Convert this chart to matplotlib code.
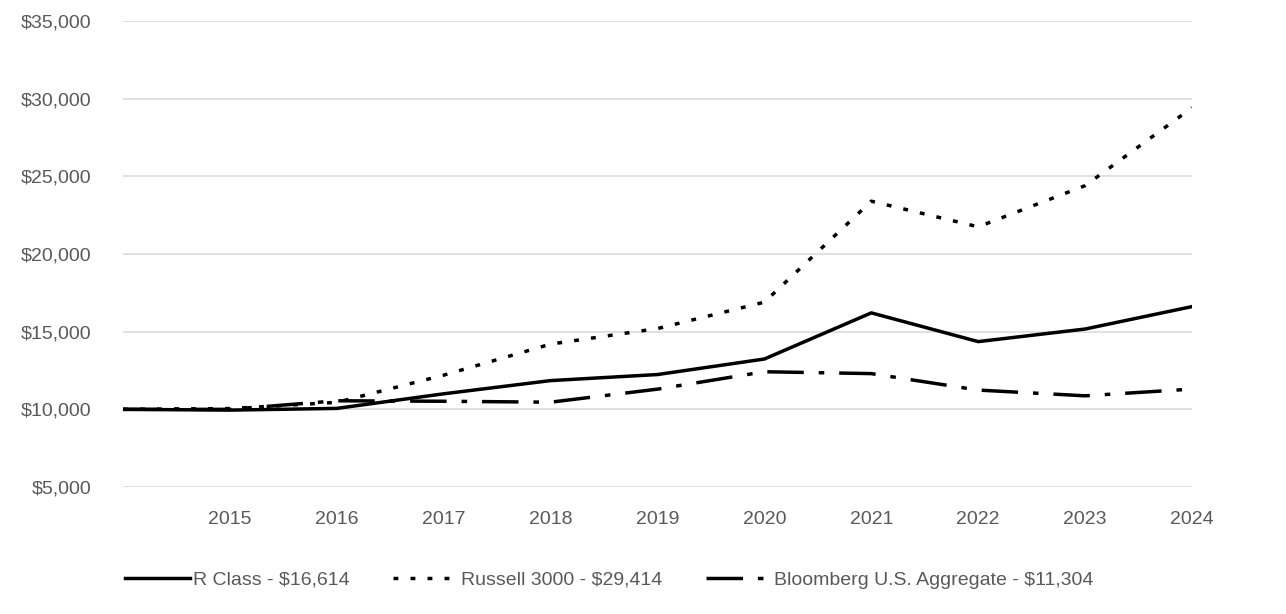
import matplotlib
matplotlib.use("Agg")
import matplotlib.pyplot as plt
from matplotlib.ticker import FuncFormatter

plt.rcParams['font.family'] = ['Liberation Sans', 'DejaVu Sans']

years = [2014, 2015, 2016, 2017, 2018, 2019, 2020, 2021, 2022, 2023, 2024]
r_class = [10000, 9950, 10060, 11000, 11850, 12240, 13240, 16210, 14360, 15170, 16614]
russell = [10000, 10050, 10450, 12200, 14200, 15200, 16900, 23400, 21750, 24400, 29414]
bloomberg = [10000, 10000, 10550, 10520, 10460, 11300, 12420, 12300, 11240, 10870, 11304]
labels = ['R Class - $16,614', 'Russell 3000 - $29,414', 'Bloomberg U.S. Aggregate - $11,304']

text_col = '#595959'
lw = 2.5
fs = 14

fig = plt.figure(figsize=(12.86, 6.14), dpi=100)
ax = fig.add_axes([123 / 1286, 1 - 487 / 614, (1192 - 123) / 1286, (487 - 21) / 614])

l1, = ax.plot(years, r_class, color='black', lw=lw)
l2, = ax.plot(years, russell, color='black', lw=lw, linestyle=(0, (1.4, 3.5)))
l3, = ax.plot(years, bloomberg, color='black', lw=lw, linestyle=(0, (10.5, 4.3, 1.6, 4.3)))

ax.set_xlim(2014, 2024)
ax.set_ylim(5000, 35000)
ax.set_yticks(range(5000, 35001, 5000))
ax.set_xticks(years[1:])
ax.yaxis.set_major_formatter(FuncFormatter(lambda v, p: f'${v:,.0f}'))
ax.grid(axis='y', color='#dcdcdc', lw=1.2)
ax.set_axisbelow(True)
for s in ax.spines.values():
    s.set_visible(False)
ax.tick_params(length=0, labelsize=fs, colors=text_col)
ax.tick_params(axis='y', pad=23)
ax.tick_params(axis='x', pad=17)

leg = fig.legend([l1, l2, l3], labels, loc='center left', ncol=3,
                 bbox_to_anchor=(125 / 1286, 1 - 580 / 614), frameon=False,
                 fontsize=fs, handlelength=3.34, handletextpad=0.15,
                 columnspacing=2.26, borderpad=0, borderaxespad=0)
for t in leg.get_texts():
    t.set_color(text_col)

fig.savefig('out.png', dpi=100)
